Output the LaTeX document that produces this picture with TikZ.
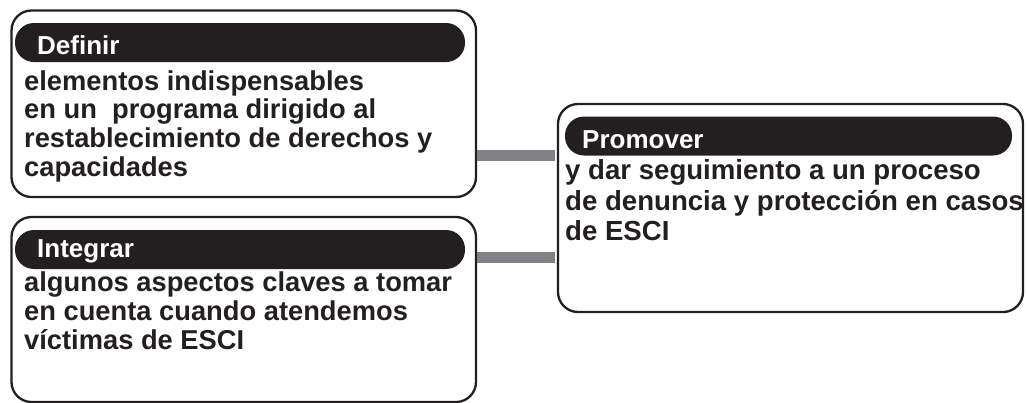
\documentclass[tikz,border=0pt]{standalone}
\usepackage{fontspec}
\setmainfont{Liberation Sans}
\definecolor{ink}{HTML}{231F20}
\definecolor{bargray}{HTML}{808285}
\begin{document}
\begin{tikzpicture}[x=1pt,y=-1pt,
  box/.style={draw=ink, line width=2.3pt, rounded corners=20pt, rectangle, inner sep=0pt},
  pill/.style={fill=ink, rounded corners=19pt, rectangle, inner sep=0pt, minimum height=39pt},
  head/.style={anchor=base west, inner sep=0pt, text=white, font=\fontsize{26}{29}\selectfont\bfseries},
  body/.style={anchor=base west, inner sep=0pt, text=ink, font=\fontsize{27.3}{29}\selectfont\bfseries},
  bodyr/.style={body, font=\fontsize{27.6}{30}\selectfont\bfseries},
  bar/.style={draw=bargray, line width=10.5pt}
]
\useasboundingbox (0,0) rectangle (1027,402);
% boxes
\node[box, minimum width=464.5pt, minimum height=186.5pt] (b1) at (243.75,103.75) {};
\node[box, minimum width=464.5pt, minimum height=185pt] (b2) at (243.75,309.5) {};
\node[box, minimum width=465pt, minimum height=208pt] (b3) at (790.5,208) {};
% header pills
\node[pill, minimum width=450pt] (p1) at (240,42.5) {};
\node[pill, minimum width=450pt] (p2) at (240,249.5) {};
\node[pill, minimum width=447pt] (p3) at (788.5,136) {};
\node[head] (h1) at (37,54) {Definir};
\node[head] (h2) at (37,257) {Integrar};
\node[head] (h3) at (582,148) {Promover};
% body text
\node[body] (t11) at (24,90) {elementos indispensables};
\node[body] (t12) at (24,118.5) {en un\ \ programa dirigido al};
\node[body] (t13) at (24,147.5) {restablecimiento de derechos y};
\node[body] (t14) at (24,176.5) {capacidades};
\node[body] (t21) at (24,291) {algunos aspectos claves a tomar};
\node[body] (t22) at (24,320) {en cuenta cuando atendemos};
\node[body] (t23) at (24,349) {víctimas de ESCI};
\node[bodyr] (t31) at (565,179) {y dar seguimiento a un proceso};
\node[bodyr] (t32) at (565,210) {de denuncia y protección en casos};
\node[bodyr] (t33) at (565,240) {de ESCI};
% connectors
\coordinate (y1) at (0,155.5);
\coordinate (y2) at (0,257.7);
\draw[bar] (b1.east |- y1) -- ([xshift=-2pt]b3.west |- y1);
\draw[bar] (b2.east |- y2) -- ([xshift=-2pt]b3.west |- y2);
\end{tikzpicture}
\end{document}
